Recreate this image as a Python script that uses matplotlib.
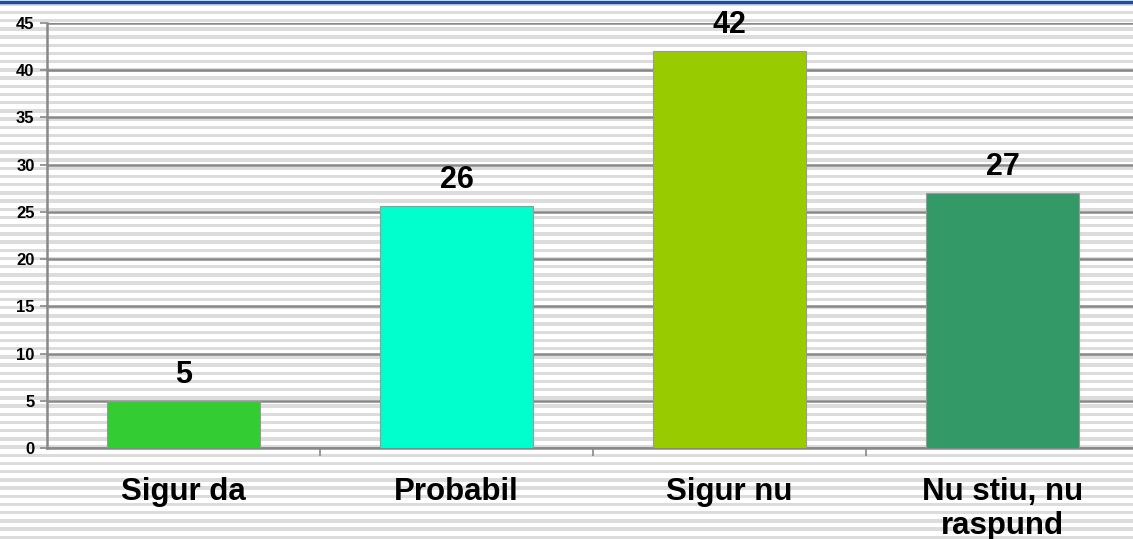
import matplotlib.pyplot as plt
import numpy as np

categories = ['Sigur da', 'Probabil', 'Sigur nu', 'Nu stiu, nu\nraspund']
values = [5, 25.6, 42, 27]
labels = ['5', '26', '42', '27']
colors = ['#33CC33', '#00FFCC', '#99CC00', '#339966']
yticks = list(range(0, 50, 5))

plt.rcParams['font.family'] = ['Liberation Sans', 'DejaVu Sans']

fig = plt.figure(figsize=(11.33, 5.39), dpi=100)

# striped background
bg = fig.add_axes([0, 0, 1, 1])
bg.set_xlim(0, 1)
bg.set_ylim(0, 539)
for y in np.arange(0, 539, 8.2):
    bg.axhspan(y, y + 3.4, color='#DCDCDC', lw=0)
bg.axhline(537.5, color='#1F4E99', lw=2.5)
bg.axis('off')

ax = fig.add_axes([0.0415, 0.1688, 0.964, 0.7885])
ax.patch.set_alpha(0)
x = np.arange(len(categories))
bars = ax.bar(x, values, width=0.56, color=colors, edgecolor='#999999',
              linewidth=0.8, zorder=3)

for xi, v, lab in zip(x, values, labels):
    ax.annotate(lab, (xi, v), xytext=(0, 8), textcoords='offset points',
                ha='center', va='bottom', fontsize=22, fontweight='bold')

ax.set_xlim(-0.5, 3.5)
ax.set_ylim(0, 45)
ax.set_yticks(yticks)
ax.set_yticklabels([str(t) for t in yticks], fontsize=12, fontweight='bold')
ax.yaxis.grid(True, color='#888888', lw=1.8, zorder=1)
ax.set_axisbelow(True)

ax.set_xticks(x)
ax.set_xticklabels(categories, fontsize=22.5, fontweight='bold',
                   linespacing=1.17, va='top')
ax.set_xticks(x[:-1] + 0.5, minor=True)
ax.tick_params(axis='x', which='major', length=0, pad=21)
ax.tick_params(axis='x', which='minor', length=6, width=1.2, color='#888888')
ax.tick_params(axis='y', length=5, width=1.2, color='#888888', pad=4)

for s in ['top', 'right']:
    ax.spines[s].set_visible(False)
for s in ['left', 'bottom']:
    ax.spines[s].set_color('#888888')
    ax.spines[s].set_linewidth(1.8)

fig.savefig('out.png', dpi=100)
